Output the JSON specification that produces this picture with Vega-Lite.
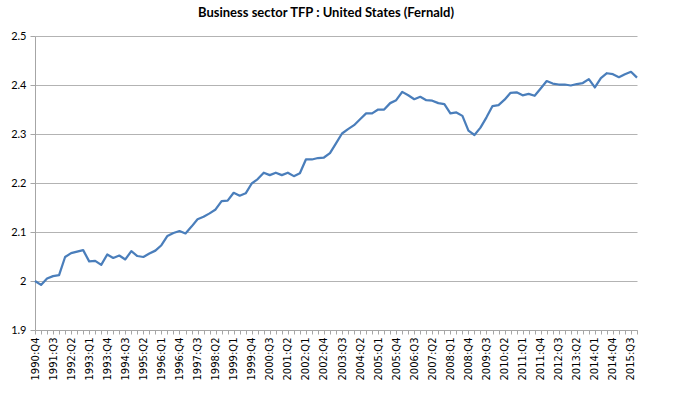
{
  "$schema": "https://vega.github.io/schema/vega-lite/v6.json",
  "width": 602,
  "height": 294,
  "autosize": {"type": "none"},
  "padding": {"left": 35, "top": 36, "right": 63, "bottom": 63},
  "background": "white",
  "title": {
    "text": "Business sector TFP : United States (Fernald)",
    "font": "Lato",
    "fontSize": 13,
    "fontWeight": "bold",
    "color": "#000000",
    "anchor": "middle",
    "dx": -10,
    "offset": 10
  },
  "config": {
    "view": {"stroke": null},
    "axis": {"labelColor": "#000000", "domainColor": "#a6a6a6", "tickColor": "#a6a6a6", "gridColor": "#b3b3b3"}
  },
  "data": {
    "values": [
      {"q": "1990:Q4", "v": 2.000}, {"q": "1991:Q1", "v": 1.992}, {"q": "1991:Q2", "v": 2.005}, {"q": "1991:Q3", "v": 2.010},
      {"q": "1991:Q4", "v": 2.012}, {"q": "1992:Q1", "v": 2.049}, {"q": "1992:Q2", "v": 2.057}, {"q": "1992:Q3", "v": 2.060},
      {"q": "1992:Q4", "v": 2.063}, {"q": "1993:Q1", "v": 2.040}, {"q": "1993:Q2", "v": 2.041}, {"q": "1993:Q3", "v": 2.033},
      {"q": "1993:Q4", "v": 2.054}, {"q": "1994:Q1", "v": 2.047}, {"q": "1994:Q2", "v": 2.052}, {"q": "1994:Q3", "v": 2.044},
      {"q": "1994:Q4", "v": 2.061}, {"q": "1995:Q1", "v": 2.051}, {"q": "1995:Q2", "v": 2.049}, {"q": "1995:Q3", "v": 2.056},
      {"q": "1995:Q4", "v": 2.062}, {"q": "1996:Q1", "v": 2.073}, {"q": "1996:Q2", "v": 2.092}, {"q": "1996:Q3", "v": 2.098},
      {"q": "1996:Q4", "v": 2.102}, {"q": "1997:Q1", "v": 2.097}, {"q": "1997:Q2", "v": 2.111}, {"q": "1997:Q3", "v": 2.126},
      {"q": "1997:Q4", "v": 2.131}, {"q": "1998:Q1", "v": 2.138}, {"q": "1998:Q2", "v": 2.146}, {"q": "1998:Q3", "v": 2.163},
      {"q": "1998:Q4", "v": 2.164}, {"q": "1999:Q1", "v": 2.180}, {"q": "1999:Q2", "v": 2.174}, {"q": "1999:Q3", "v": 2.179},
      {"q": "1999:Q4", "v": 2.199}, {"q": "2000:Q1", "v": 2.208}, {"q": "2000:Q2", "v": 2.221}, {"q": "2000:Q3", "v": 2.216},
      {"q": "2000:Q4", "v": 2.221}, {"q": "2001:Q1", "v": 2.216}, {"q": "2001:Q2", "v": 2.221}, {"q": "2001:Q3", "v": 2.214},
      {"q": "2001:Q4", "v": 2.220}, {"q": "2002:Q1", "v": 2.248}, {"q": "2002:Q2", "v": 2.248}, {"q": "2002:Q3", "v": 2.251},
      {"q": "2002:Q4", "v": 2.252}, {"q": "2003:Q1", "v": 2.261}, {"q": "2003:Q2", "v": 2.281}, {"q": "2003:Q3", "v": 2.301},
      {"q": "2003:Q4", "v": 2.310}, {"q": "2004:Q1", "v": 2.318}, {"q": "2004:Q2", "v": 2.330}, {"q": "2004:Q3", "v": 2.342},
      {"q": "2004:Q4", "v": 2.342}, {"q": "2005:Q1", "v": 2.350}, {"q": "2005:Q2", "v": 2.350}, {"q": "2005:Q3", "v": 2.363},
      {"q": "2005:Q4", "v": 2.369}, {"q": "2006:Q1", "v": 2.386}, {"q": "2006:Q2", "v": 2.379}, {"q": "2006:Q3", "v": 2.371},
      {"q": "2006:Q4", "v": 2.376}, {"q": "2007:Q1", "v": 2.369}, {"q": "2007:Q2", "v": 2.368}, {"q": "2007:Q3", "v": 2.363},
      {"q": "2007:Q4", "v": 2.361}, {"q": "2008:Q1", "v": 2.342}, {"q": "2008:Q2", "v": 2.344}, {"q": "2008:Q3", "v": 2.337},
      {"q": "2008:Q4", "v": 2.307}, {"q": "2009:Q1", "v": 2.298}, {"q": "2009:Q2", "v": 2.313}, {"q": "2009:Q3", "v": 2.334},
      {"q": "2009:Q4", "v": 2.357}, {"q": "2010:Q1", "v": 2.359}, {"q": "2010:Q2", "v": 2.370}, {"q": "2010:Q3", "v": 2.384},
      {"q": "2010:Q4", "v": 2.385}, {"q": "2011:Q1", "v": 2.379}, {"q": "2011:Q2", "v": 2.382}, {"q": "2011:Q3", "v": 2.378},
      {"q": "2011:Q4", "v": 2.393}, {"q": "2012:Q1", "v": 2.408}, {"q": "2012:Q2", "v": 2.403}, {"q": "2012:Q3", "v": 2.401},
      {"q": "2012:Q4", "v": 2.401}, {"q": "2013:Q1", "v": 2.399}, {"q": "2013:Q2", "v": 2.402}, {"q": "2013:Q3", "v": 2.404},
      {"q": "2013:Q4", "v": 2.412}, {"q": "2014:Q1", "v": 2.395}, {"q": "2014:Q2", "v": 2.414}, {"q": "2014:Q3", "v": 2.424},
      {"q": "2014:Q4", "v": 2.422}, {"q": "2015:Q1", "v": 2.416}, {"q": "2015:Q2", "v": 2.422}, {"q": "2015:Q3", "v": 2.427},
      {"q": "2015:Q4", "v": 2.415}
    ]
  },
  "mark": {"type": "line", "color": "#4a7ebb", "strokeWidth": 2.25, "strokeJoin": "round"},
  "encoding": {
    "x": {
      "field": "q",
      "type": "ordinal",
      "sort": null,
      "scale": {"type": "point", "padding": 0},
      "axis": {
        "title": null,
        "labelAngle": -90,
        "labelFont": "DejaVu Sans",
        "labelFontSize": 10,
        "labelOverlap": false,
        "labelPadding": 3,
        "tickSize": 4,
        "labelExpr": "((toNumber(slice(datum.value,0,4))-1991)*4+toNumber(slice(datum.value,6,7))) % 3 == 0 ? datum.value : ''",
        "grid": false
      }
    },
    "y": {
      "field": "v",
      "type": "quantitative",
      "scale": {"domain": [1.9, 2.5], "nice": false, "zero": false},
      "axis": {
        "title": null,
        "values": [1.9, 2.0, 2.1, 2.2, 2.3, 2.4, 2.5],
        "format": ".1~f",
        "labelFont": "Lato",
        "labelFontSize": 11,
        "tickSize": 5,
        "labelPadding": 4,
        "grid": true
      }
    }
  }
}
